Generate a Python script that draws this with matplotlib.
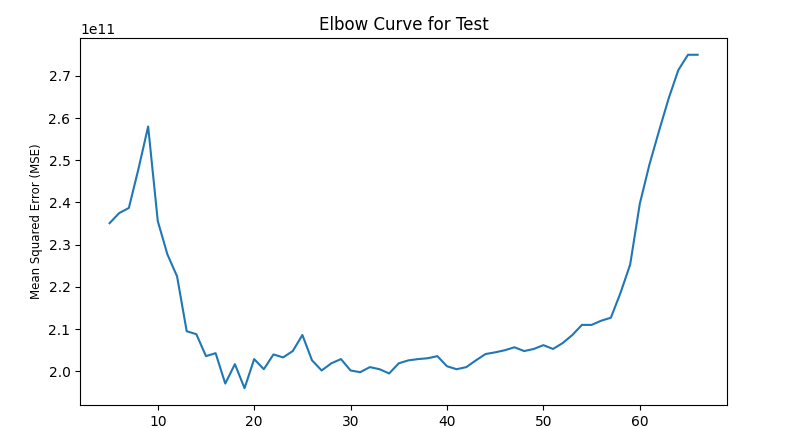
import matplotlib.pyplot as plt

# number of clusters (k) and the test MSE (units of 1e11)
k_values = list(range(5, 67))
mse_e11 = [
    2.351, 2.375, 2.387, 2.480, 2.580, 2.356, 2.277, 2.225, 2.095, 2.088,
    2.036, 2.043, 1.971, 2.017, 1.960, 2.029, 2.005, 2.040, 2.033, 2.048,
    2.086, 2.026, 2.002, 2.019, 2.029, 2.002, 1.998, 2.010, 2.005, 1.995,
    2.019, 2.026, 2.029, 2.031, 2.036, 2.012, 2.005, 2.010, 2.026, 2.041,
    2.045, 2.050, 2.057, 2.048, 2.053, 2.062, 2.053, 2.067, 2.086, 2.110,
    2.110, 2.120, 2.127, 2.186, 2.253, 2.397, 2.490, 2.570, 2.647, 2.714,
    2.750, 2.750,
]
mse = [v * 1e11 for v in mse_e11]

fig = plt.figure(figsize=(7.86, 4.28), dpi=100)
ax = fig.add_axes([0.102, 0.054, 0.823, 0.857])

ax.plot(k_values, mse, color="#1f77b4", linewidth=1.5)

ax.set_title("Elbow Curve for Test", fontsize=12)
ax.set_ylabel("Mean Squared Error (MSE)", fontsize=8.5)
ax.set_xticks([10, 20, 30, 40, 50, 60])
ax.set_yticks([2.0e11, 2.1e11, 2.2e11, 2.3e11, 2.4e11, 2.5e11, 2.6e11, 2.7e11])
ax.tick_params(labelsize=10)

fig.savefig("out.png", dpi=100)
plt.close(fig)
